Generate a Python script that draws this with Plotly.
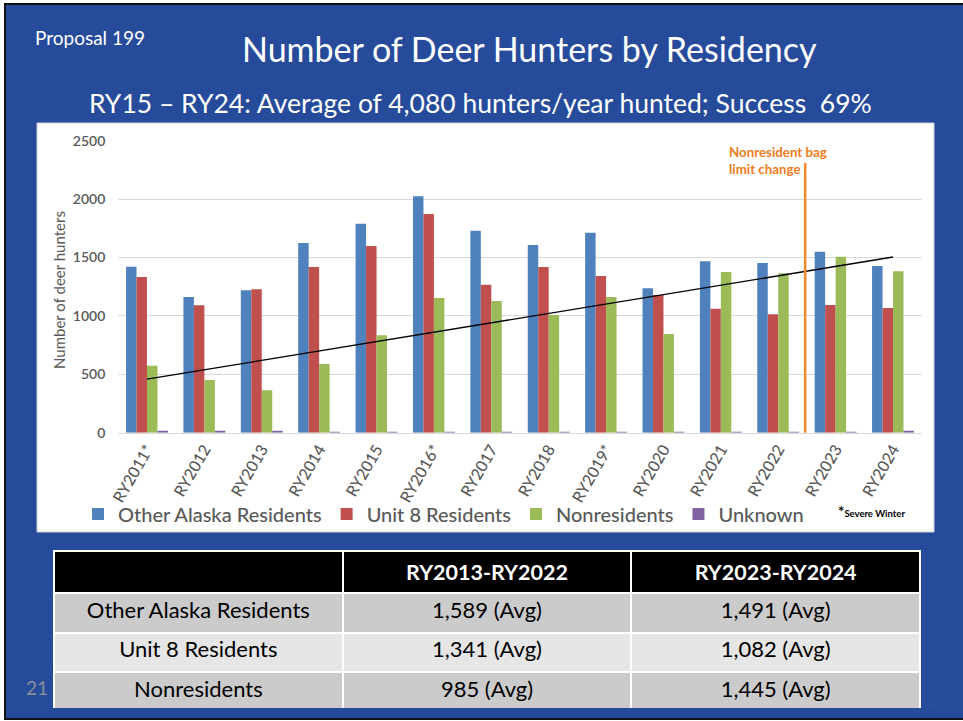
import numpy as np
import plotly.graph_objects as go

W, H = 963, 721

# ---------------- data ----------------
years = ["RY2011*", "RY2012", "RY2013", "RY2014", "RY2015", "RY2016*", "RY2017",
         "RY2018", "RY2019*", "RY2020", "RY2021", "RY2022", "RY2023", "RY2024"]
other_ak = [1421, 1162, 1219, 1624, 1789, 2024, 1729, 1607, 1712, 1236, 1467, 1453, 1550, 1427]
unit8 = [1333, 1091, 1228, 1419, 1598, 1872, 1267, 1419, 1342, 1179, 1062, 1014, 1093, 1068]
nonres = [574, 451, 363, 588, 834, 1153, 1127, 1008, 1162, 845, 1376, 1365, 1507, 1382]
unknown = [12, 12, 12, 6, 6, 3, 3, 4, 5, 5, 6, 3, 3, 14]

series_names = ["Other Alaska Residents", "Unit 8 Residents", "Nonresidents", "Unknown"]
series_colors = ["#4f81bd", "#c0504d", "#9bbb59", "#8064a2"]

table_header = ["", "RY2013-RY2022", "RY2023-RY2024"]
table_rows = ["Other Alaska Residents", "Unit 8 Residents", "Nonresidents"]
avg_2013_2022 = ["1,589 (Avg)", "1,341 (Avg)", "985 (Avg)"]
avg_2023_2024 = ["1,491 (Avg)", "1,082 (Avg)", "1,445 (Avg)"]

FONT = "Lato"
GRAY = "#595959"
SLIDE_BLUE = "#264b9b"


def px(x):
    return x / W


def py(y):
    return 1 - y / H


fig = go.Figure()

for name, vals, col in zip(series_names, [other_ak, unit8, nonres, unknown], series_colors):
    fig.add_trace(go.Bar(x=years, y=vals, name=name, marker=dict(color=col, line=dict(width=0)),
                         hoverinfo="x+y+name"))

# linear trendline of nonresidents (as in the source chart)
idx = np.arange(len(years))
coef = np.polyfit(idx, np.array(nonres, dtype=float), 1)
trend = np.polyval(coef, idx)
fig.add_trace(go.Scatter(x=years, y=trend, mode="lines", line=dict(color="black", width=1.3),
                         showlegend=False, hoverinfo="skip"))

# table
fig.add_trace(go.Table(
    domain=dict(x=[px(54), px(920)], y=[py(708), py(551)]),
    columnwidth=[1, 1, 1],
    header=dict(values=[f"<b>{h}</b>" if h else "" for h in table_header],
                fill_color="black", line=dict(color="white", width=2),
                font=dict(family=FONT, size=21.5, color="white"), align="center", height=37),
    cells=dict(values=[table_rows, avg_2013_2022, avg_2023_2024],
               fill_color=[["#cbcbcb", "#e6e6e6", "#cbcbcb"]] * 3,
               line=dict(color="white", width=2),
               font=dict(family=FONT, size=22, color="black"), align="center", height=39.5),
))

shapes = [
    # slide background
    dict(type="rect", xref="paper", yref="paper", x0=px(5), x1=px(975), y0=py(719), y1=py(4),
         fillcolor=SLIDE_BLUE, line=dict(color="#111111", width=2), layer="below"),
    # white chart panel
    dict(type="rect", xref="paper", yref="paper", x0=px(37), x1=px(934), y0=py(532), y1=py(123),
         fillcolor="white", line=dict(color="#d0d0d0", width=1), layer="below"),
    # bag limit change line
    dict(type="line", xref="x", yref="y", x0=11.47, x1=11.47, y0=-8, y1=2310,
         line=dict(color="#f08a32", width=2.5), layer="above"),
]

annotations = [
    dict(text="Proposal 199", x=px(33), y=py(38), xref="paper", yref="paper", xanchor="left",
         yanchor="middle", showarrow=False, font=dict(family=FONT, size=19, color="white")),
    dict(text="Number of Deer Hunters by Residency", x=px(529), y=py(49), xref="paper", yref="paper",
         xanchor="center", yanchor="middle", showarrow=False, font=dict(family=FONT, size=34, color="white")),
    dict(text="RY15 – RY24: Average of 4,080 hunters/year hunted; Success  69%", x=px(480), y=py(103),
         xref="paper", yref="paper", xanchor="center", yanchor="middle", showarrow=False,
         font=dict(family=FONT, size=26.5, color="white")),
    dict(text="Number of deer hunters", x=px(59), y=py(290), xref="paper", yref="paper", textangle=-90,
         xanchor="center", yanchor="middle", showarrow=False, font=dict(family=FONT, size=15, color=GRAY)),
    dict(text="<b>Nonresident bag<br>limit change</b>", x=px(727), y=py(142), xref="paper", yref="paper",
         xanchor="left", yanchor="top", align="left", showarrow=False,
         font=dict(family=FONT, size=13.3, color="#f07c22")),
    dict(text="<b><span style='font-size:15px'>*</span>Severe Winter</b>", x=px(836), y=py(511),
         xref="paper", yref="paper", xanchor="left", yanchor="middle", showarrow=False,
         font=dict(family=FONT, size=9.5, color="black")),
    dict(text="21", x=px(37), y=py(687), xref="paper", yref="paper", xanchor="center", yanchor="middle",
         showarrow=False, font=dict(family=FONT, size=19, color="#8b8f99")),
]

fig.update_layout(
    width=W, height=H,
    margin=dict(l=0, r=0, t=0, b=0, pad=0, autoexpand=False),
    paper_bgcolor="white",
    plot_bgcolor="rgba(0,0,0,0)",
    barmode="group", bargap=0.27, bargroupgap=0,
    font=dict(family=FONT, color=GRAY),
    shapes=shapes, annotations=annotations,
    xaxis=dict(domain=[px(118.3), px(921.7)], type="category", tickangle=-60, automargin=False,
               tickfont=dict(family=FONT, size=16, color=GRAY, weight=500), showgrid=False,
               showline=True, linecolor="#d9d9d9", linewidth=1, ticks="", fixedrange=True),
    yaxis=dict(domain=[py(432.7), py(140.7)], range=[0, 2500], dtick=500, showgrid=True, automargin=False,
               gridcolor="#d9d9d9", gridwidth=1, zeroline=False, showline=False, ticks="",
               tickfont=dict(family=FONT, size=14, color=GRAY, weight=600), ticklabelstandoff=12,
               fixedrange=True),
    legend=dict(orientation="h", x=px(78), y=py(514), xanchor="left", yanchor="middle",
                font=dict(family=FONT, size=20, color=GRAY, weight=500), bgcolor="rgba(0,0,0,0)",
                traceorder="normal"),
    showlegend=True,
)

fig.write_html("out.html", config={"displayModeBar": False},
               post_script="document.body.style.margin='0';document.body.style.overflow='hidden';")
